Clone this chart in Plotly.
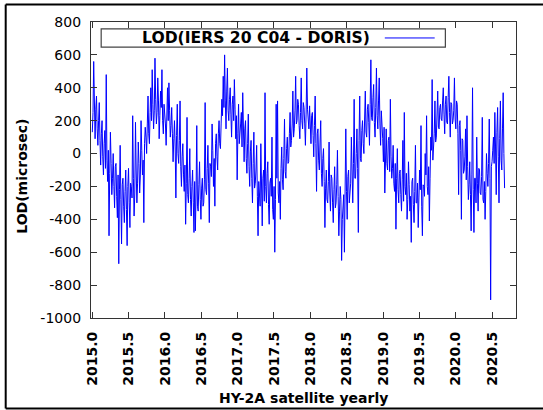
import numpy as np
import plotly.graph_objects as go

# LOD differences (IERS 20 C04 - DORIS), microseconds, sampled every 3.5 days
lod_2015 = [130, 250, 560, 180, 90, 270, 350, 150, 50, 200, 310, 80, -70, 120, 200, -20,
            -130, 60, 140, -90, 480, -40, -170, 20, -500, -120, 130, -60, -250, -150, 0, -200,
            -330, -80, -60, -260, -390, -130, -670, -220, 50, -280, -550, -190, -150, -320,
            -420, -230, -100, -340, -560, -200, -90, -300, -450, -180, -200, -270, 230, -150,
            -380, -240, 190, -100, -300, -180, 70, -60, -240, -130, 200, 20, -130, -40, -420,
            60, 160, 100, 0, 180, 350, 120, 60, 250, 400, 200, 510, 300, 150, 260, 580, 330,
            180, 250, 460, 320, 90, 230, 380, 280, 510, 200, 120, 300]
lod_2016 = [250, 180, 50, 240, 400, 200, 430, 260, 100, 170, 280, 120, -50, 90, 200, 40,
            -270, 110, 300, 0, -60, 80, 320, -80, -200, -20, 60, -130, -230, -70, -430, -180,
            220, -250, -300, -150, 30, -280, -380, -200, -100, -300, -480, -170, -470, -240,
            170, -320, -350, -190, -50, -280, -400, -210, -150, -320, -300, -160, 310, -220,
            -250, -90, 50, -180, -420, -60, -80, -140, 180, 20, -200, -30, -320, 60, 120, -20,
            -100, 120, 200, 60, 30, 180, 330, 230, 470, 280, 600, 320, 150, 380, 520, 260, 200,
            330, 400, 240, 100, 300, 350, 200, 450, 270, 90, 230]
lod_2017 = [-160, 120, 300, 60, 100, 180, 250, 40, 370, 110, -50, 150, 200, -30, -120, 60,
            240, -80, -200, 10, 80, -150, -300, -60, 130, -210, -180, -100, 50, -260, -500,
            -170, -250, -320, 60, -230, -440, -150, -100, -290, 370, -200, -300, -120, -50,
            -310, -430, -180, -150, -260, 100, -340, -400, -200, -600, -280, 300, -150, 320,
            -240, -300, -170, -400, -90, 40, -160, -220, -30, 210, -110, -150, 30, 100, -60,
            -50, 120, 250, 40, 80, 180, 380, 100, 150, 260, 470, 180, 200, 330, 300, 170, 90,
            250, 460, 200, 150, 310, 280, 180, 50, 240, 520, 270, 200, 150]
lod_2018 = [290, 180, 60, 230, 250, 110, -20, 170, 350, 60, -230, 120, 150, -40, -100, 70,
            200, -120, -200, -30, 30, -170, -450, -210, -100, -280, -300, -170, 70, -240, -350,
            -130, -150, -300, -420, -220, -80, -330, -300, -190, 20, -260, -500, -350, -200,
            -280, -650, -400, -350, -250, -600, -330, 150, -230, -400, -140, -100, -300, -250,
            -180, 100, -240, -300, -60, 330, -150, -150, 0, 150, -90, -480, 80, 350, -30, -50,
            140, 200, 60, 0, 210, 380, 130, 100, 270, 300, 190, 50, 300, 570, 220, 200, 340,
            420, 190, 100, 280, 520, 230, 150, 320, 460, 180, 50, 260]
lod_2019 = [200, 90, -50, 160, -240, 20, 150, -60, -100, 80, 100, -110, 330, -20, -150, -90,
            50, -180, -230, -60, -460, -150, 30, -220, -300, -120, -100, -250, -350, -160, 80,
            -290, 250, -200, -250, -120, -400, -280, -50, -190, -350, -260, -540, -170, -150,
            -310, -420, -230, 50, -300, -300, -180, -450, -270, -100, -220, 170, -320, -500,
            -190, -200, -260, 0, -130, 230, -200, -250, -80, -410, -150, 100, 20, 450, -40, 50,
            120, 320, 70, 100, 220, 380, 160, 150, 280, 300, 210, 200, 320, 400, 240, 120, 300,
            350, 190, 180, 340, 470, 250, 100, 310, 300, 180, 200, 260]
lod_2020 = [460, 210, 150, 320, 300, 120, -250, 170, 200, 20, -400, 90, 80, -120, -100, -20,
            150, -160, 230, -80, -280, -190, -50, -250, -470, -130, 400, -220, -480, -150, -150,
            -300, 100, -180, -350, -90, -100, -240, -250, -140, 220, -280, -300, -170, -400,
            -230, 0, -120, -200, -60, 210, -150, -890, -80, -50, 20, 100, -60, 250, 40, -250,
            130, 280, -20, -300, 90, 320, -40, -100, 150, 370, 0, -210]

lod = lod_2015 + lod_2016 + lod_2017 + lod_2018 + lod_2019 + lod_2020
start_year = 2015.0
step_days = 3.5
years = start_year + np.arange(len(lod)) * step_days / 365.25

x_range = [2014.982, 2020.83]
y_range = [-1000, 800]
y_tick_vals = [-1000, -800, -600, -400, -200, 0, 200, 400, 600, 800]
y_tick_text = ["-1000", "-800", "-600", "-400", "-200", "0", "200", "400", "600", "800"]
legend_label = "LOD(IERS 20 C04 - DORIS)"

font = dict(family="DejaVu Sans", size=14, color="black")
axis_color = "#333333"

fig = go.Figure()
fig.add_trace(go.Scatter(x=years, y=lod, mode="lines",
                         line=dict(color="rgb(0,0,255)", width=1),
                         name=legend_label, showlegend=False))

# plot area geometry in pixels, used for paper-coordinate decorations
W, H = 543, 410
L, R, T, B = 90.5, 516.5, 21.5, 318.3
pw, ph = R - L, B - T
px = lambda v: (v - L) / pw
py = lambda v: (B - v) / ph

shapes = []
# key box with line sample
shapes.append(dict(type="rect", xref="paper", yref="paper",
                   x0=px(100.7), x1=px(445.7), y0=py(46.7), y1=py(28.3),
                   line=dict(color="#444444", width=1.2), fillcolor="white", layer="above"))
shapes.append(dict(type="line", xref="paper", yref="paper",
                   x0=px(385), x1=px(435), y0=py(37.5), y1=py(37.5),
                   line=dict(color="rgb(0,0,255)", width=1)))
# outer frame (left, top, bottom)
frame = dict(color="black", width=2)
shapes.append(dict(type="line", xref="paper", yref="paper",
                   x0=px(5), x1=px(5), y0=py(4), y1=py(409), line=frame))
shapes.append(dict(type="line", xref="paper", yref="paper",
                   x0=px(5), x1=px(545), y0=py(4), y1=py(4), line=frame))
shapes.append(dict(type="line", xref="paper", yref="paper",
                   x0=px(5), x1=px(545), y0=py(409), y1=py(409), line=frame))

annotations = [
    dict(text="<b>" + legend_label + "</b>", xref="paper", yref="paper",
         x=px(372), y=py(37.5), xanchor="right", yanchor="middle", showarrow=False,
         font=dict(family="DejaVu Sans", size=15.6, color="black")),
    dict(text="<b>HY-2A satellite yearly</b>", xref="paper", yref="paper",
         x=px(304), y=py(399), xanchor="center", yanchor="middle", showarrow=False,
         font=font),
    dict(text="<b>LOD(microsec)</b>", xref="paper", yref="paper",
         x=px(21), y=py(176), xanchor="center", yanchor="middle", showarrow=False,
         textangle=-90, font=font),
]

fig.update_layout(
    width=W, height=H,
    margin=dict(l=L, r=W - R, t=T, b=H - B, pad=0),
    paper_bgcolor="white", plot_bgcolor="white",
    font=font,
    shapes=shapes, annotations=annotations,
    showlegend=False,
)
fig.update_xaxes(range=x_range, tick0=2015.0, dtick=0.5, tickformat=".1f",
                 tickangle=-90, ticks="inside", ticklen=6, tickcolor=axis_color,
                 showline=True, linecolor=axis_color, linewidth=1.3, mirror="ticks",
                 showgrid=False, zeroline=False, ticklabelstandoff=7,
                 tickprefix="<b>", ticksuffix="</b>")
fig.update_yaxes(range=y_range, tickmode="array", tickvals=y_tick_vals, ticktext=y_tick_text,
                 ticks="inside", ticklen=6, tickcolor=axis_color,
                 showline=True, linecolor=axis_color, linewidth=1.3, mirror="ticks",
                 showgrid=False, zeroline=False, ticklabelstandoff=6,
                 tickprefix="<b>", ticksuffix="</b>")

fig.write_html("out.html")
